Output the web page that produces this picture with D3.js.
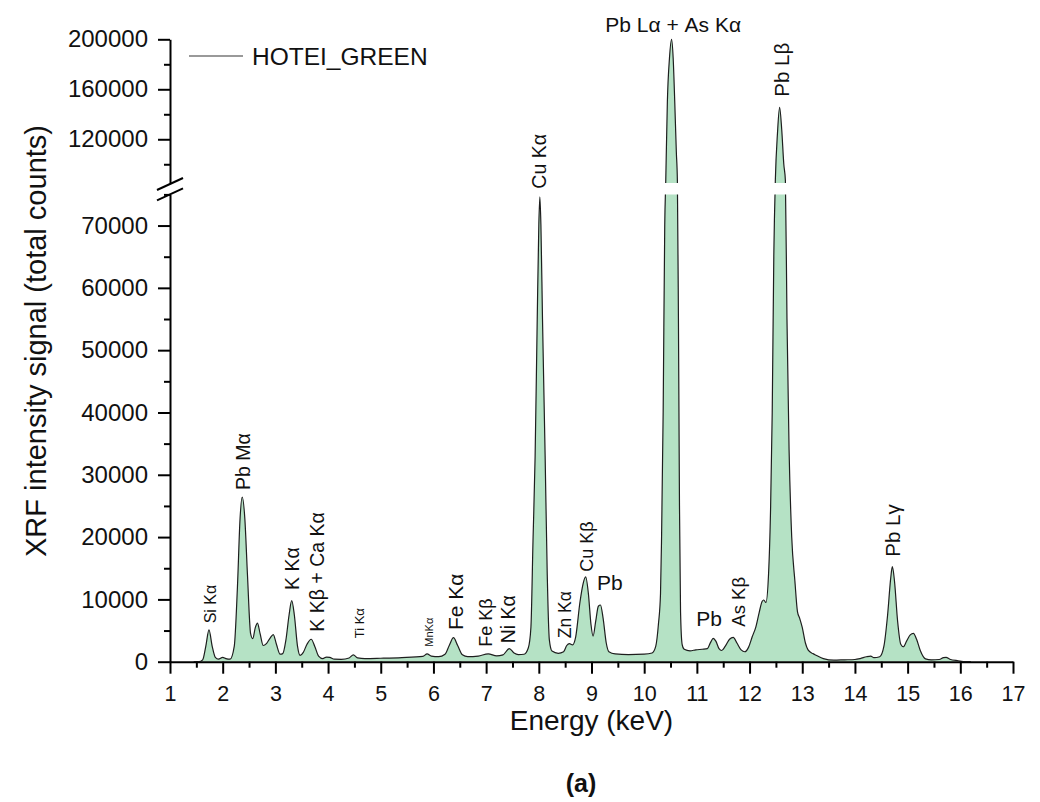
<!DOCTYPE html>
<html>
<head>
<meta charset="utf-8">
<script src="https://cdn.jsdelivr.net/npm/d3@7"></script>
<style>
  html, body { margin: 0; padding: 0; background: #fff; }
  svg { display: block; font-family: "Liberation Sans", Arial, sans-serif; }
  .axis path, .axis line { stroke: #000; stroke-width: 2; }
  .axis text { fill: #111; }
</style>
</head>
<body>
<svg id="chart" width="1040" height="802"></svg>
<script>
// XRF spectrum, sample HOTEI_GREEN.
const SERIES_NAME = 'HOTEI_GREEN';

// Energy (keV) of each sampled point
const ENERGY = [
  1.45, 1.55, 1.62, 1.68, 1.74, 1.80, 1.86, 1.92, 2.00, 2.06,
  2.14, 2.22, 2.28, 2.33, 2.37, 2.42, 2.47, 2.53, 2.57, 2.62,
  2.66, 2.71, 2.77, 2.83, 2.90, 2.96, 3.02, 3.09, 3.14, 3.20,
  3.26, 3.31, 3.36, 3.42, 3.47, 3.53, 3.60, 3.68, 3.75, 3.82,
  3.90, 3.97, 4.03, 4.12, 4.25, 4.40, 4.48, 4.56, 4.70, 5.00,
  5.40, 5.80, 5.88, 5.96, 6.10, 6.22, 6.30, 6.38, 6.46, 6.55,
  6.65, 6.85, 7.04, 7.20, 7.32, 7.44, 7.53, 7.61, 7.72, 7.80,
  7.85, 7.89, 7.93, 7.97, 8.00, 8.02, 8.04, 8.07, 8.12, 8.16,
  8.20, 8.25, 8.37, 8.47, 8.53, 8.58, 8.64, 8.70, 8.78, 8.84,
  8.89, 8.94, 8.99, 9.03, 9.08, 9.13, 9.17, 9.22, 9.28, 9.33,
  9.45, 9.70, 10.00, 10.15, 10.22, 10.27, 10.31, 10.33, 10.36, 10.39,
  10.41, 10.44, 10.48, 10.52, 10.55, 10.58, 10.61, 10.63, 10.65, 10.67,
  10.69, 10.72, 10.76, 10.87, 10.98, 11.10, 11.20, 11.26, 11.31, 11.36,
  11.42, 11.47, 11.54, 11.62, 11.69, 11.76, 11.84, 11.91, 11.98, 12.05,
  12.12, 12.18, 12.24, 12.27, 12.31, 12.36, 12.40, 12.43, 12.46, 12.49,
  12.53, 12.57, 12.61, 12.65, 12.68, 12.71, 12.75, 12.80, 12.86, 12.91,
  12.95, 13.00, 13.06, 13.11, 13.20, 13.27, 13.40, 13.60, 13.80, 14.00,
  14.10, 14.22, 14.30, 14.36, 14.47, 14.55, 14.62, 14.68, 14.71, 14.75,
  14.81, 14.87, 14.92, 14.98, 15.05, 15.11, 15.17, 15.24, 15.34, 15.45,
  15.60, 15.68, 15.73, 15.80, 15.96, 16.10, 16.20
];

// Total counts at each energy above
const COUNTS = [
  0, 0, 300, 2500, 5100, 2500, 700, 400, 700, 500,
  400, 2500, 12000, 23000, 26400, 23000, 14000, 4500, 3700, 5500,
  6200, 4500, 2600, 2900, 3800, 4350, 2800, 1200, 1300, 3500,
  7500, 9800, 7500, 2500, 1000, 1500, 2800, 3600, 2400, 900,
  500, 750, 700, 400, 380, 600, 1100, 600, 500, 550,
  650, 850, 1250, 900, 800, 1200, 2600, 3850, 2600, 1100,
  800, 900, 1250, 950, 1100, 2100, 1400, 1150, 1200, 2200,
  5500, 19500, 33000, 55000, 70000, 74600, 70000, 55000, 33000, 14000,
  3500, 1700, 1350, 1600, 2600, 2900, 2700, 4000, 9500, 12500,
  13600, 11000, 6000, 4100, 6500, 8900, 9100, 7000, 3000, 1600,
  1250, 1150, 1200, 1400, 2500, 6000, 11000, 20000, 40000, 70000,
  88000, 150000, 185000, 200000, 185000, 150000, 110000, 87000, 55000, 25000,
  8000, 2800, 2000, 1750, 1900, 2000, 2100, 3100, 3750, 3300,
  2100, 1800, 2500, 3600, 3900, 3000, 1900, 1600, 2300, 4000,
  5600, 7800, 9700, 9900, 9500, 14000, 25000, 40000, 65000, 88000,
  125000, 145600, 128000, 100000, 87000, 55000, 34000, 20000, 13000, 8000,
  7000, 5500, 3000, 1900, 1300, 1000, 500, 250, 300, 350,
  500, 800, 900, 650, 800, 2500, 7500, 13500, 15250, 13000,
  6500, 2800, 2400, 3300, 4300, 4550, 3600, 1800, 450, 300,
  350, 650, 700, 400, 150, 0, 0
];

// Peak annotations: text, anchor energy, anchor counts (start of the text)
const PEAK_TEXT = ['Si Kα', 'Pb Mα', 'K Kα', 'K Kβ + Ca Kα', 'Ti Kα', 'MnKα', 'Fe Kα', 'Fe Kβ',
  'Ni Kα', 'Cu Kα', 'Zn Kα', 'Cu Kβ', 'As Kβ', 'Pb Lγ', 'Pb Lβ'];
const PEAK_E = [1.77, 2.38, 3.32, 3.78, 4.59, 5.92, 6.42, 6.99, 7.42, 8.00, 8.50, 8.91, 11.79, 14.72, 12.61];
const PEAK_C = [6160, 27560, 11510, 4815, 3760, 2410, 5090, 2410, 2950, 80000, 3760, 14450, 5620, 16850, 154100];

// Horizontal annotations (centred on the anchor)
const FLAT_TEXT = ['Pb Lα + As Kα', 'Pb', 'Pb'];
const FLAT_E = [10.55, 9.35, 11.23];
const FLAT_C = [206000, 11510, 5730];

// Axis ticks
const X_MAJOR = d3.range(1, 18);
const X_MINOR = d3.range(1.5, 17, 1);
const Y_LOW_MAJOR = d3.range(0, 70001, 10000);
const Y_LOW_MINOR = d3.range(5000, 75001, 10000);
const Y_HIGH_MAJOR = [120000, 160000, 200000];
const Y_HIGH_MINOR = [100000, 140000, 180000];

// font sizes for the annotations (the source figure uses mixed sizes)
const LABEL_SIZE = {
  'Si Kα': 16, 'Ti Kα': 13, 'MnKα': 11, 'Fe Kα': 21, 'Fe Kβ': 18, 'Zn Kα': 17.5,
  'Cu Kβ': 18, 'As Kβ': 18.5, 'Pb Lγ': 20.5, 'Pb Lβ': 20.5
};
const DEFAULT_LABEL_SIZE = 19.5;

const svg = d3.select('#chart');

// Broken y axis: lower panel 0..75000, upper panel 85000..200000
const LOW_MAX = 75000, HIGH_MIN = 85000;
const xscale = d3.scaleLinear().domain([1, 17]).range([170, 1013]);
const yLow = d3.scaleLinear().domain([0, LOW_MAX]).range([661.7, 194.4]);
const yHigh = d3.scaleLinear().domain([HIGH_MIN, 200000]).range([183, 39.3]);
// values inside the gap are just stretched across it (and hidden by the clip)
const yGap = d3.scaleLinear().domain([LOW_MAX, HIGH_MIN]).range([yLow(LOW_MAX), yHigh(HIGH_MIN)]);
const yscale = v => v <= LOW_MAX ? yLow(v) : (v >= HIGH_MIN ? yHigh(v) : yGap(v));

const pts = ENERGY.map((e, i) => ({e: e, c: COUNTS[i]}));

// clip the spectrum to the two panels so the break shows as a white band
const clip = svg.append('defs').append('clipPath').attr('id', 'panels');
clip.append('rect')
  .attr('x', xscale(1)).attr('y', yLow(LOW_MAX))
  .attr('width', xscale(17) - xscale(1)).attr('height', yLow(0) - yLow(LOW_MAX));
clip.append('rect')
  .attr('x', xscale(1)).attr('y', 0)
  .attr('width', xscale(17) - xscale(1)).attr('height', yHigh(HIGH_MIN));

const plot = svg.append('g').attr('clip-path', 'url(#panels)');
plot.append('path')
  .datum(pts)
  .attr('fill', '#b5e2c5')
  .attr('d', d3.area()
    .x(d => xscale(d.e))
    .y0(yLow(0))
    .y1(d => yscale(d.c))
    .curve(d3.curveMonotoneX));
plot.append('path')
  .datum(pts)
  .attr('fill', 'none')
  .attr('stroke', '#1e1e1e')
  .attr('stroke-width', 1.2)
  .attr('d', d3.line()
    .x(d => xscale(d.e))
    .y(d => yscale(d.c))
    .curve(d3.curveMonotoneX));

// Axes
const TICK_FONT_X = 21.5, TICK_FONT_Y = 24;
let styleAxis = (g, size) => g.attr('font-size', size).attr('font-family', null);

let xg = svg.append('g').attr('class', 'axis').attr('transform', `translate(0 ${yLow(0)})`);
xg.call(d3.axisBottom(xscale).tickValues(X_MAJOR).tickSize(12).tickSizeOuter(0)
  .tickPadding(12).tickFormat(d3.format('d')));
styleAxis(xg, TICK_FONT_X);
svg.append('g').attr('class', 'axis').attr('transform', `translate(0 ${yLow(0)})`)
  .call(d3.axisBottom(xscale).tickValues(X_MINOR).tickSize(6).tickSizeOuter(0).tickFormat(''))
  .select('.domain').remove();

let ylg = svg.append('g').attr('class', 'axis').attr('transform', `translate(${xscale(1)} 0)`);
ylg.call(d3.axisLeft(yLow).tickValues(Y_LOW_MAJOR).tickSize(12).tickSizeOuter(0)
  .tickPadding(10).tickFormat(d3.format('d')));
styleAxis(ylg, TICK_FONT_Y);
svg.append('g').attr('class', 'axis').attr('transform', `translate(${xscale(1)} 0)`)
  .call(d3.axisLeft(yLow).tickValues(Y_LOW_MINOR).tickSize(6).tickSizeOuter(0).tickFormat(''))
  .select('.domain').remove();

let yhg = svg.append('g').attr('class', 'axis').attr('transform', `translate(${xscale(1)} 0)`);
yhg.call(d3.axisLeft(yHigh).tickValues(Y_HIGH_MAJOR).tickSize(12).tickSizeOuter(0)
  .tickPadding(10).tickFormat(d3.format('d')));
styleAxis(yhg, TICK_FONT_Y);
svg.append('g').attr('class', 'axis').attr('transform', `translate(${xscale(1)} 0)`)
  .call(d3.axisLeft(yHigh).tickValues(Y_HIGH_MINOR).tickSize(6).tickSizeOuter(0).tickFormat(''))
  .select('.domain').remove();

// break marks "//" on the y axis
let bx = xscale(1);
[yHigh(HIGH_MIN) + 1, yLow(LOW_MAX)].forEach(by => {
  svg.append('line')
    .attr('x1', bx - 13).attr('y1', by + 6)
    .attr('x2', bx + 13).attr('y2', by - 6)
    .attr('stroke', '#000').attr('stroke-width', 2);
});

// Axis titles
svg.append('text')
  .attr('x', (xscale(1) + xscale(17)) / 2)
  .attr('y', 730)
  .attr('text-anchor', 'middle')
  .attr('font-size', 28)
  .attr('fill', '#111')
  .text('Energy (keV)');
svg.append('text')
  .attr('transform', 'translate(46 341) rotate(-90)')
  .attr('text-anchor', 'middle')
  .attr('font-size', 29)
  .attr('fill', '#111')
  .text('XRF intensity signal (total counts)');
svg.append('text')
  .attr('x', 581)
  .attr('y', 792)
  .attr('text-anchor', 'middle')
  .attr('font-size', 25)
  .attr('font-weight', 'bold')
  .attr('fill', '#111')
  .text('(a)');

// Legend
svg.append('line')
  .attr('x1', 189).attr('x2', 243).attr('y1', 56).attr('y2', 56)
  .attr('stroke', '#777').attr('stroke-width', 1.5);
svg.append('text')
  .attr('x', 252).attr('y', 65)
  .attr('font-size', 24.5)
  .attr('fill', '#111')
  .text(SERIES_NAME);

// Peak labels, rotated to read bottom-to-top
let peaks = PEAK_TEXT.map((t, i) => ({t: t, e: PEAK_E[i], c: PEAK_C[i]}));
svg.selectAll('.peaklabel').data(peaks)
  .enter()
  .append('text')
  .classed('peaklabel', true)
  .attr('transform', d => `translate(${xscale(d.e)} ${yscale(d.c)}) rotate(-90)`)
  .attr('dy', '0.36em')
  .attr('font-size', d => LABEL_SIZE[d.t] || DEFAULT_LABEL_SIZE)
  .attr('fill', '#111')
  .text(d => d.t);

let flats = FLAT_TEXT.map((t, i) => ({t: t, e: FLAT_E[i], c: FLAT_C[i]}));
svg.selectAll('.flatlabel').data(flats)
  .enter()
  .append('text')
  .classed('flatlabel', true)
  .attr('x', d => xscale(d.e))
  .attr('y', d => yscale(d.c))
  .attr('text-anchor', 'middle')
  .attr('font-size', 21)
  .attr('fill', '#111')
  .text(d => d.t);
</script>
</body>
</html>
